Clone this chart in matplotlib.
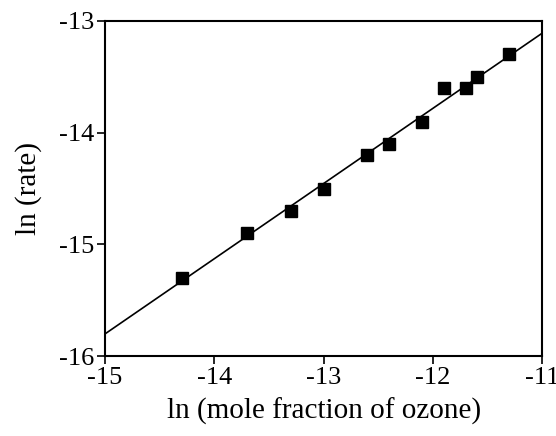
import matplotlib.pyplot as plt

# измеренные точки
ln_ozone = [-14.3, -13.7, -13.3, -13.0, -12.6, -12.4, -12.1, -11.9, -11.7, -11.6, -11.3]
ln_rate = [-15.3, -14.9, -14.7, -14.5, -14.2, -14.1, -13.9, -13.6, -13.6, -13.5, -13.3]

# линия аппроксимации
fit_x = [-15.0, -11.0]
fit_y = [-15.80, -13.11]

plt.rcParams['font.family'] = ['Liberation Serif', 'DejaVu Serif']
plt.rcParams['axes.unicode_minus'] = False

fig = plt.figure(figsize=(5.56, 4.36), dpi=100)
ax = fig.add_axes([0.189, 0.183, 0.786, 0.769])

ax.plot(fit_x, fit_y, color='black', lw=1.2)
ax.plot(ln_ozone, ln_rate, 's', color='black', markersize=8)

ax.set_xlim(-15, -11)
ax.set_ylim(-16, -13)
ax.set_xticks([-15, -14, -13, -12, -11])
ax.set_yticks([-16, -15, -14, -13])
ax.tick_params(direction='out', length=6, width=1.2, labelsize=19, pad=2,
               top=False, right=False)
for s in ax.spines.values():
    s.set_linewidth(1.5)

ax.set_xlabel('ln (mole fraction of ozone)', fontsize=21, labelpad=6)
ax.set_ylabel('ln (rate)', fontsize=21, labelpad=12)

fig.savefig('out.png', dpi=100)
